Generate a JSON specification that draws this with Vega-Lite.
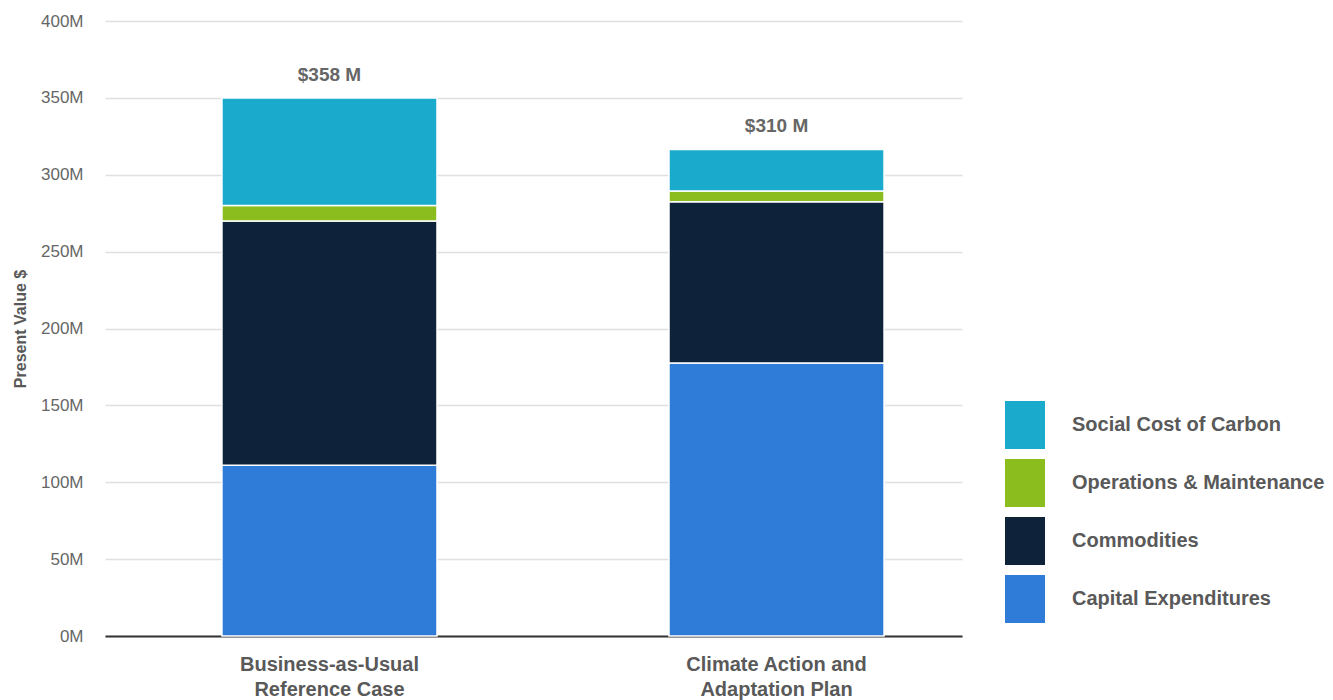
{
  "$schema": "https://vega.github.io/schema/vega-lite/v6.json",
  "width": 857,
  "height": 615,
  "autosize": {"type": "none"},
  "padding": {"left": 105, "top": 21, "right": 371, "bottom": 64},
  "background": "white",
  "config": {
    "view": {"stroke": null},
    "font": "Liberation Sans"
  },
  "data": {
    "values": [
      {"scenario": "Business-as-Usual|Reference Case", "component": "Capital Expenditures", "order": 1, "value": 111, "total_label": "$358 M"},
      {"scenario": "Business-as-Usual|Reference Case", "component": "Commodities", "order": 2, "value": 159, "total_label": "$358 M"},
      {"scenario": "Business-as-Usual|Reference Case", "component": "Operations & Maintenance", "order": 3, "value": 10, "total_label": "$358 M"},
      {"scenario": "Business-as-Usual|Reference Case", "component": "Social Cost of Carbon", "order": 4, "value": 70, "total_label": "$358 M"},
      {"scenario": "Climate Action and|Adaptation Plan", "component": "Capital Expenditures", "order": 1, "value": 177.5, "total_label": "$310 M"},
      {"scenario": "Climate Action and|Adaptation Plan", "component": "Commodities", "order": 2, "value": 105, "total_label": "$310 M"},
      {"scenario": "Climate Action and|Adaptation Plan", "component": "Operations & Maintenance", "order": 3, "value": 7, "total_label": "$310 M"},
      {"scenario": "Climate Action and|Adaptation Plan", "component": "Social Cost of Carbon", "order": 4, "value": 27, "total_label": "$310 M"}
    ]
  },
  "encoding": {
    "x": {
      "field": "scenario",
      "type": "nominal",
      "sort": null,
      "scale": {"paddingInner": 0.519, "paddingOuter": 0.218, "align": 0.6},
      "axis": {
        "title": null,
        "labelAngle": 0,
        "labelExpr": "split(datum.label, '|')",
        "labelFontSize": 20,
        "labelFontWeight": "bold",
        "labelColor": "#595959",
        "labelLineHeight": 25,
        "labelPadding": 18,
        "labelLimit": 400,
        "ticks": false,
        "domain": true,
        "domainColor": "#333333",
        "domainWidth": 2,
        "grid": false
      }
    }
  },
  "layer": [
    {
      "mark": {"type": "bar", "stroke": "white", "strokeWidth": 1.5},
      "encoding": {
        "y": {
          "field": "value",
          "type": "quantitative",
          "stack": "zero",
          "scale": {"domain": [0, 400], "nice": false},
          "axis": {
            "title": "Present Value $",
            "titleFontSize": 16,
            "titleFontWeight": "bold",
            "titleColor": "#595959",
            "titlePadding": 12,
            "values": [0, 50, 100, 150, 200, 250, 300, 350, 400],
            "labelExpr": "datum.value + 'M'",
            "labelFontSize": 17,
            "labelColor": "#666666",
            "labelPadding": 22,
            "ticks": false,
            "domain": false,
            "grid": true,
            "gridColor": "#e0e0e0",
            "gridWidth": 1.5
          }
        },
        "color": {
          "field": "component",
          "type": "nominal",
          "scale": {
            "domain": ["Social Cost of Carbon", "Operations & Maintenance", "Commodities", "Capital Expenditures"],
            "range": ["#1aabcc", "#8cbd1f", "#0e2239", "#2e7bd8"]
          },
          "legend": {
            "title": null,
            "orient": "none",
            "legendX": 900,
            "legendY": 384,
            "symbolType": "M-1,-1.2H1V1.2H-1Z",
            "symbolSize": 1600,
            "symbolOpacity": 1,
            "symbolStrokeWidth": 0,
            "labelFontSize": 20,
            "labelFontWeight": "bold",
            "labelColor": "#595959",
            "labelOffset": 27,
            "rowPadding": 10,
            "labelLimit": 400
          }
        },
        "order": {"field": "order", "type": "quantitative"}
      }
    },
    {
      "transform": [
        {"aggregate": [{"op": "sum", "field": "value", "as": "total"}], "groupby": ["scenario", "total_label"]}
      ],
      "mark": {"type": "text", "dy": -23, "fontSize": 19, "fontWeight": "bold", "color": "#666666"},
      "encoding": {
        "y": {"field": "total", "type": "quantitative"},
        "text": {"field": "total_label"}
      }
    }
  ]
}
